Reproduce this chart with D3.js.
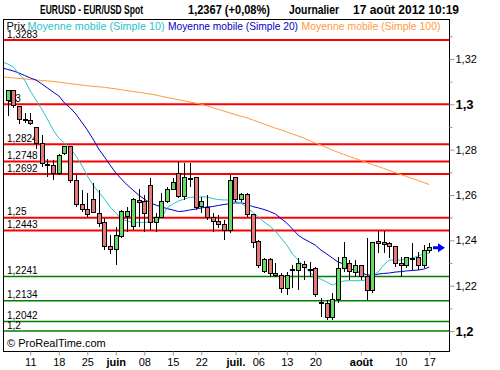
<!DOCTYPE html>
<html>
<head>
<meta charset="utf-8">
<script src="https://cdn.jsdelivr.net/npm/d3@7"></script>
<style>
body { margin: 0; background: #fff; }
svg { display: block; font-family: Arial, "Liberation Sans", sans-serif; }
</style>
</head>
<body>
<svg id="chart" width="500" height="370"></svg>
<script>
// EUR/USD daily candles, 7 May -> 17 Aug 2012 (one entry per trading day)
const opens  = [1.3015,1.3059,1.2989,1.2935,1.2929,1.2899,1.2828,1.2734,1.2732,1.2696,1.2781,1.2813,1.2663,1.2560,1.2537,1.2578,1.2519,1.2478,1.2375,1.2360,
                1.2419,1.2503,1.2463,1.2575,1.2570,1.2640,1.2478,1.2502,1.2570,1.2625,1.2696,1.2592,1.2671,1.2678,1.2551,1.2546,1.2502,1.2485,1.2472,1.2442,
                1.2678,1.2581,1.2604,1.2516,1.2393,1.2262,1.2316,1.2255,1.2247,1.2188,1.2271,1.2269,1.2294,1.2271,1.2277,1.2126,1.2122,1.2060,1.2140,1.2277,
                1.2299,1.2257,1.2291,1.2240,1.2178,1.2397,1.2390,1.2387,1.2375,1.2299,1.2291,1.2320,1.2325,1.2291,1.2354];
const highs  = [1.3063,1.3063,1.2993,1.2962,1.2962,1.2901,1.2865,1.2759,1.2754,1.2781,1.2816,1.2816,1.2688,1.2622,1.2609,1.2652,1.2622,1.2498,1.2423,1.2459,
                1.2534,1.2547,1.2587,1.2625,1.2600,1.2674,1.2519,1.2610,1.2637,1.2674,1.2747,1.2740,1.2740,1.2681,1.2592,1.2600,1.2521,1.2512,1.2490,1.2688,
                1.2679,1.2607,1.2610,1.2518,1.2401,1.2321,1.2321,1.2300,1.2256,1.2262,1.2291,1.2321,1.2310,1.2306,1.2284,1.2146,1.2137,1.2168,1.2328,1.2394,
                1.2313,1.2313,1.2293,1.2409,1.2393,1.2442,1.2442,1.2394,1.2376,1.2328,1.2328,1.2387,1.2350,1.2379,1.2387];
const lows   = [1.2948,1.2984,1.2913,1.2918,1.2909,1.2803,1.2723,1.2679,1.2666,1.2688,1.2776,1.2652,1.2548,1.2526,1.2504,1.2519,1.2460,1.2357,1.2340,1.2291,
                1.2410,1.2437,1.2446,1.2460,1.2438,1.2446,1.2438,1.2497,1.2565,1.2622,1.2587,1.2578,1.2637,1.2534,1.2519,1.2490,1.2438,1.2453,1.2401,1.2431,
                1.2570,1.2570,1.2504,1.2365,1.2277,1.2255,1.2240,1.2240,1.2166,1.2159,1.2188,1.2181,1.2225,1.2238,1.2151,1.2062,1.2049,1.2049,1.2122,1.2262,
                1.2225,1.2240,1.2225,1.2137,1.2168,1.2343,1.2343,1.2321,1.2284,1.2240,1.2277,1.2269,1.2269,1.2277,1.2343];
const closes = [1.3059,1.2993,1.2931,1.2931,1.2916,1.2825,1.2737,1.2730,1.2696,1.2776,1.2813,1.2663,1.2556,1.2534,1.2515,1.2524,1.2475,1.2372,1.2360,1.2423,
                1.2529,1.2525,1.2578,1.2568,1.2519,1.2478,1.2502,1.2570,1.2625,1.2656,1.2592,1.2678,1.2667,1.2546,1.2573,1.2502,1.2482,1.2471,1.2442,1.2662,
                1.2581,1.2604,1.2512,1.2391,1.2287,1.2316,1.2255,1.2244,1.2188,1.2247,1.2267,1.2296,1.2279,1.2267,1.2159,1.2121,1.2060,1.2140,1.2277,1.2325,
                1.2262,1.2288,1.2240,1.2178,1.2390,1.2387,1.2381,1.2375,1.2296,1.2291,1.2325,1.2315,1.2291,1.2354,1.2367];

// moving averages, first value belongs to the day before the first candle
const maStart = -1;
const ma10  = [1.3187,1.3178,1.3165,1.3134,1.3107,1.3059,1.3019,1.2979,1.2935,1.2887,1.2851,1.2829,1.2807,1.2772,1.2732,1.2684,1.2644,1.2613,1.2582,1.2547,
               1.2521,1.2494,1.2485,1.2479,1.2479,1.2479,1.2481,1.2485,1.2498,1.2543,1.2560,1.2573,1.2582,1.2589,1.2591,1.2592,1.2591,1.2584,1.2580,1.2578,
               1.2578,1.2571,1.2565,1.2543,1.2525,1.2503,1.2481,1.2463,1.2441,1.2410,1.2379,1.2340,1.2313,1.2287,1.2260,1.2238,1.2229,1.2216,1.2203,1.2212,
               1.2221,1.2222,1.2222,1.2222,1.2225,1.2243,1.2260,1.2291,1.2313,1.2313,1.2313,1.2318,1.2322,1.2331,1.2340,1.2344];
const ma20  = [1.3160,1.3154,1.3147,1.3138,1.3127,1.3116,1.3107,1.3090,1.3072,1.3054,1.3037,1.3006,1.2984,1.2957,1.2922,1.2887,1.2847,1.2803,1.2768,1.2732,
               1.2697,1.2670,1.2644,1.2622,1.2600,1.2582,1.2565,1.2556,1.2547,1.2540,1.2534,1.2527,1.2529,1.2534,1.2538,1.2543,1.2547,1.2549,1.2554,1.2558,
               1.2562,1.2565,1.2565,1.2560,1.2549,1.2543,1.2536,1.2527,1.2516,1.2496,1.2476,1.2450,1.2423,1.2406,1.2393,1.2379,1.2357,1.2340,1.2322,1.2304,
               1.2296,1.2278,1.2265,1.2256,1.2249,1.2245,1.2251,1.2254,1.2256,1.2260,1.2262,1.2265,1.2267,1.2269,1.2273,1.2282];
const ma100 = [1.3120,1.3119,1.3116,1.3114,1.3112,1.3109,1.3107,1.3105,1.3103,1.3101,1.3098,1.3094,1.3091,1.3088,1.3085,1.3082,1.3079,1.3077,1.3075,1.3071,
               1.3068,1.3064,1.3060,1.3056,1.3053,1.3049,1.3045,1.3041,1.3035,1.3030,1.3025,1.3020,1.3015,1.3010,1.3005,1.3000,1.2993,1.2985,1.2977,1.2970,
               1.2962,1.2954,1.2947,1.2940,1.2931,1.2922,1.2913,1.2904,1.2895,1.2887,1.2878,1.2869,1.2860,1.2851,1.2840,1.2829,1.2820,1.2809,1.2798,1.2788,
               1.2779,1.2770,1.2761,1.2752,1.2743,1.2734,1.2726,1.2717,1.2708,1.2699,1.2690,1.2682,1.2673,1.2664,1.2655,1.2646];

// horizontal support / resistance levels
const redLevels   = [1.3283, 1.3, 1.2824, 1.2748, 1.2692, 1.25, 1.2443];
const greenLevels = [1.2241, 1.2134, 1.2042, 1.2];

// axis ticks
const yMajorTicks = [1.2, 1.22, 1.24, 1.26, 1.28, 1.3, 1.32];
const yMinorTicks = [1.21, 1.23, 1.25, 1.27, 1.29, 1.31, 1.33];
const xTickIdx    = [4, 9, 14, 19, 24, 29, 34, 40, 44, 49, 54, 62, 69, 74];
const xTickLabels = ["11", "18", "25", "juin", "08", "15", "22", "juil.", "06", "13", "20", "août", "10", "17"];
const monthLabels = ["juin", "juil.", "août"];

const PLOT = { left: 3, right: 449, top: 19, bottom: 351 };
const comma = v => String(+v.toFixed(4)).replace('.', ',');

const svg = d3.select('#chart');

const xScale = d3.scaleLinear().domain([-0.79, 77.46]).range([PLOT.left, PLOT.right]);
const yScale = d3.scaleLinear().domain([1.1912, 1.3376]).range([PLOT.bottom, PLOT.top]);

svg.append('defs').append('clipPath').attr('id', 'plotClip')
  .append('rect')
  .attr('x', PLOT.left).attr('y', PLOT.top)
  .attr('width', PLOT.right - PLOT.left).attr('height', PLOT.bottom - PLOT.top);

// title line
const titleParts = [
  { t: "EURUSD - EUR/USD Spot", x: 40, len: 103 },
  { t: "1,2367 (+0,08%)", x: 188, len: 82 },
  { t: "Journalier", x: 289, len: 50 },
  { t: "17 août 2012 10:19", x: 353, len: 106 }
];
svg.selectAll('text.title').data(titleParts).enter().append('text')
  .attr('class', 'title')
  .attr('x', d => d.x).attr('y', 13.5)
  .attr('textLength', d => d.len).attr('lengthAdjust', 'spacingAndGlyphs')
  .style('font-size', '12.5px').style('font-weight', 'bold')
  .text(d => d.t);

// levels
const levelGroup = svg.append('g');
function drawLevels(levels, color, width) {
  levels.forEach(v => {
    levelGroup.append('line')
      .attr('x1', PLOT.left).attr('x2', PLOT.right)
      .attr('y1', yScale(v)).attr('y2', yScale(v))
      .attr('stroke', color).attr('stroke-width', width);
    levelGroup.append('text')
      .attr('x', 7).attr('y', yScale(v) - 2.5)
      .style('font-size', '10px')
      .text(comma(v));
  });
}
drawLevels(redLevels, '#ff0000', 2);
drawLevels(greenLevels, '#008000', 1.5);

// legend
const legendParts = [
  { t: "Prix", x: 6.5, len: 19, c: '#000' },
  { t: "Moyenne mobile (Simple 10)", x: 27.5, len: 137, c: '#2ac4c8' },
  { t: "Moyenne mobile (Simple 20)", x: 168, len: 130, c: '#0000c8' },
  { t: "Moyenne mobile (Simple 100)", x: 301.5, len: 139, c: '#ff9a3c' }
];
svg.selectAll('text.legend').data(legendParts).enter().append('text')
  .attr('class', 'legend')
  .attr('x', d => d.x).attr('y', 30)
  .attr('textLength', d => d.len).attr('lengthAdjust', 'spacingAndGlyphs')
  .style('font-size', '11px').attr('fill', d => d.c)
  .text(d => d.t);

// moving average lines
const maGroup = svg.append('g').attr('clip-path', 'url(#plotClip)');
const maLine = d3.line().x((d, i) => xScale(i + maStart)).y(d => yScale(d));
[[ma100, '#ff9a3c'], [ma20, '#0000c8'], [ma10, '#2ac4c8']].forEach(([vals, col]) => {
  maGroup.append('path').datum(vals)
    .attr('d', maLine)
    .attr('fill', 'none').attr('stroke', col).attr('stroke-width', 1);
});

// candles
const candles = closes.map((c, i) => ({ i, o: opens[i], h: highs[i], l: lows[i], c }));
const cg = svg.append('g').attr('shape-rendering', 'crispEdges');
const candle = cg.selectAll('g').data(candles).enter().append('g');
candle.append('line')
  .attr('x1', d => Math.round(xScale(d.i)) + 0.5).attr('x2', d => Math.round(xScale(d.i)) + 0.5)
  .attr('y1', d => yScale(d.h)).attr('y2', d => yScale(d.l))
  .attr('stroke', '#000');
candle.append('rect')
  .attr('x', d => Math.round(xScale(d.i)) - 1.5)
  .attr('width', 4)
  .attr('y', d => yScale(Math.max(d.o, d.c)))
  .attr('height', d => Math.max(1, Math.abs(yScale(d.o) - yScale(d.c))))
  .attr('fill', d => d.c >= d.o ? '#64dc64' : '#e67878')
  .attr('stroke', '#000');

// frame
svg.append('rect')
  .attr('x', PLOT.left + 0.5).attr('y', PLOT.top + 0.5)
  .attr('width', PLOT.right - PLOT.left).attr('height', PLOT.bottom - PLOT.top)
  .attr('fill', 'none').attr('stroke', '#000');

// y axis on the right
const yAxis = svg.append('g').attr('transform', `translate(${PLOT.right + 0.5},0)`)
  .call(d3.axisRight(yScale).tickValues(yMajorTicks).tickSize(5).tickPadding(1).tickFormat(comma));
yAxis.select('.domain').remove();
yAxis.selectAll('line').attr('stroke', '#999');
yAxis.selectAll('text')
  .attr('fill', '#000')
  .style('font-family', 'Arial, "Liberation Sans", sans-serif')
  .style('font-size', d => (d === 1.2 || d === 1.3) ? '13px' : '11px')
  .style('font-weight', d => (d === 1.2 || d === 1.3) ? 'bold' : 'normal');
const yMinor = svg.append('g').attr('transform', `translate(${PLOT.right + 0.5},0)`)
  .call(d3.axisRight(yScale).tickValues(yMinorTicks).tickSize(3).tickFormat(''));
yMinor.select('.domain').remove();
yMinor.selectAll('line').attr('stroke', '#999');

// x axis
const xAxis = svg.append('g').attr('transform', `translate(0,${PLOT.bottom + 0.5})`)
  .call(d3.axisBottom(xScale).tickValues(xTickIdx).tickSize(4).tickPadding(3)
    .tickFormat((d, i) => xTickLabels[i]));
xAxis.select('.domain').remove();
xAxis.selectAll('line').attr('stroke', '#999');
xAxis.selectAll('text')
  .attr('fill', '#000')
  .style('font-family', 'Arial, "Liberation Sans", sans-serif')
  .style('font-size', '11px')
  .style('font-weight', (d, i) => monthLabels.includes(xTickLabels[i]) ? 'bold' : 'normal');

// last price arrow
const lastY = yScale(closes[closes.length - 1]);
svg.append('path')
  .attr('d', `M433,${lastY - 1.5}H438V${lastY - 4.5}L445,${lastY}L438,${lastY + 4.5}V${lastY + 1.5}H433Z`)
  .attr('fill', '#0000ff');

// copyright
svg.append('text').attr('x', 7).attr('y', 347)
  .style('font-size', '11px')
  .text('© ProRealTime.com');
</script>
</body>
</html>
